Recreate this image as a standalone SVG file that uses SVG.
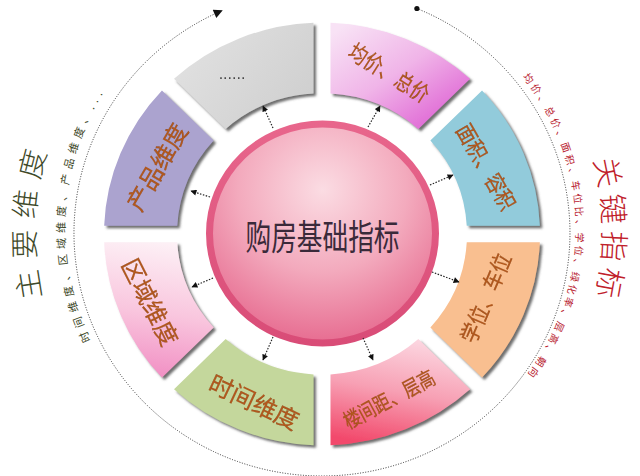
<svg xmlns="http://www.w3.org/2000/svg" width="640" height="476" viewBox="0 0 640 476">
<style>
.lbl{font-family:"Noto Sans CJK SC","Noto Sans CJK JP",sans-serif;fill:#b4581c;stroke:#7a3b12;stroke-width:0.2;text-anchor:middle}
.big{font-family:"Noto Sans CJK SC","Noto Sans CJK JP",sans-serif;font-weight:300}
.small{font-family:"Noto Sans CJK SC","Noto Sans CJK JP",sans-serif}
.conn{fill:none;stroke:#222;stroke-width:1.2;stroke-dasharray:1.5 1.5;marker-end:url(#ah)}
.seg{filter:url(#sh)}
</style>
<defs>
<filter id="sh" x="-10%" y="-10%" width="130%" height="130%">
<feDropShadow dx="2.5" dy="2.5" stdDeviation="0.8" flood-color="#555" flood-opacity="0.85"/>
</filter>
<marker id="ah" viewBox="0 0 10 10" refX="9" refY="5" markerWidth="7" markerHeight="6" orient="auto" markerUnits="userSpaceOnUse">
<path d="M0,0 L10,5 L0,10 z" fill="#111"/>
</marker>
<marker id="ah2" viewBox="0 0 10 10" refX="8" refY="5" markerWidth="10" markerHeight="9" orient="auto" markerUnits="userSpaceOnUse">
<path d="M0,0 L10,5 L0,10 z" fill="#111"/>
</marker>
<linearGradient id="g0" gradientUnits="userSpaceOnUse" x1="345" y1="25" x2="415" y2="128">
<stop offset="0" stop-color="#f8e2f5"/><stop offset="0.55" stop-color="#f0b4e8"/><stop offset="1" stop-color="#e273d8"/>
</linearGradient>
<linearGradient id="g3" gradientUnits="userSpaceOnUse" x1="400" y1="335" x2="380" y2="445">
<stop offset="0" stop-color="#fcd8e2"/><stop offset="0.5" stop-color="#f7a0b4"/><stop offset="1" stop-color="#f24a6c"/>
</linearGradient>
<linearGradient id="g5" gradientUnits="userSpaceOnUse" x1="170" y1="242" x2="150" y2="385">
<stop offset="0" stop-color="#fdf1f6"/><stop offset="0.5" stop-color="#f9c6de"/><stop offset="1" stop-color="#f088c0"/>
</linearGradient>
<linearGradient id="g7" gradientUnits="userSpaceOnUse" x1="180" y1="30" x2="300" y2="120">
<stop offset="0" stop-color="#e2e2e2"/><stop offset="1" stop-color="#cfcfcf"/>
</linearGradient>
<radialGradient id="gc" cx="0.5" cy="0.3" r="0.75">
<stop offset="0" stop-color="#fbdce3"/><stop offset="0.5" stop-color="#f3aabd"/><stop offset="1" stop-color="#e5638a"/>
</radialGradient>
<linearGradient id="gr" x1="0" y1="0" x2="0" y2="1">
<stop offset="0" stop-color="#e8668c"/><stop offset="1" stop-color="#d94c77"/>
</linearGradient>
<path id="tpL" d="M42.2,297.1 A287,287 0 0 1 52.3,134.8"/>
<path id="tpR" d="M593.4,160 A281,281 0 0 1 586.1,329.1"/>
<path id="tpLs" d="M90.8,340.3 A257,257 0 0 1 111.5,80.6"/>
<path id="tpRs" d="M522.4,76.8 A243,243 0 0 1 504.8,400.8"/>
</defs>
<rect width="640" height="476" fill="#ffffff"/>

<g id="outer-ring">
<path d="M416.9,8.5 A248,243 0 1 1 221.1,11" fill="none" stroke="#333" stroke-width="1" stroke-dasharray="1 1.6" marker-end="url(#ah2)"/>
<circle cx="416.9" cy="8.5" r="2.6" fill="#111"/>
</g>

<g id="seg-junjia" class="seg">
<path d="M330.5,22.7 A218,211.46 0 0 1 470.02,78.76 L418.34,128.89 A145,140.65 0 0 0 330.5,93.59 Z" fill="url(#g0)"/>
<text class="lbl" font-size="22" textLength="90" lengthAdjust="spacingAndGlyphs" transform="translate(389,73) rotate(32)" x="0" y="8">均价、总价</text>
</g>
<g id="seg-mianji" class="seg">
<path d="M482.04,90.42 A218,211.46 0 0 1 539.83,225.76 L466.75,225.76 A145,140.65 0 0 0 430.36,140.55 Z" fill="#92cbdb"/>
<text class="lbl" font-size="22" textLength="95" lengthAdjust="spacingAndGlyphs" transform="translate(486,167) rotate(60)" x="0" y="8">面积、容积</text>
</g>
<g id="seg-xuewei" class="seg">
<path d="M539.83,242.25 A218,211.46 0 0 1 482.04,377.58 L430.36,327.45 A145,140.65 0 0 0 466.75,242.25 Z" fill="#f9bf90"/>
<text class="lbl" font-size="22" textLength="95" lengthAdjust="spacingAndGlyphs" transform="translate(486,298) rotate(-67)" x="0" y="8">学位、车位</text>
</g>
<g id="seg-loujianju" class="seg">
<path d="M470.02,389.24 A218,211.46 0 0 1 330.5,445.3 L330.5,374.41 A145,140.65 0 0 0 418.34,339.11 Z" fill="url(#g3)"/>
<text class="lbl" font-size="21" textLength="100" lengthAdjust="spacingAndGlyphs" transform="translate(389,399) rotate(-28)" x="0" y="8">楼间距、层高</text>
</g>
<g id="seg-shijian" class="seg">
<path d="M313.5,445.3 A218,211.46 0 0 1 174,389.24 L225.66,339.11 A145,140.65 0 0 0 313.5,374.41 Z" fill="#c4d79c"/>
<text class="lbl" font-size="24" textLength="96" lengthAdjust="spacingAndGlyphs" transform="translate(254,402) rotate(25)" x="0" y="9">时间维度</text>
</g>
<g id="seg-quyu" class="seg">
<path d="M161.96,377.58 A218,211.46 0 0 1 104.17,242.25 L177.25,242.25 A145,140.65 0 0 0 213.64,327.45 Z" fill="url(#g5)"/>
<text class="lbl" font-size="24" textLength="94" lengthAdjust="spacingAndGlyphs" transform="translate(150,302) rotate(63)" x="0" y="9">区域维度</text>
</g>
<g id="seg-chanpin" class="seg">
<path d="M104.17,225.76 A218,211.46 0 0 1 161.96,90.42 L213.64,140.55 A145,140.65 0 0 0 177.25,225.76 Z" fill="#aba3cf"/>
<text class="lbl" font-size="24" textLength="96" lengthAdjust="spacingAndGlyphs" transform="translate(157,167) rotate(-60)" x="0" y="9">产品维度</text>
</g>
<g id="seg-more" class="seg">
<path d="M174,78.76 A218,211.46 0 0 1 313.5,22.7 L313.5,93.59 A145,140.65 0 0 0 225.66,128.89 Z" fill="url(#g7)"/>
<text x="232" y="79" font-family="Liberation Sans, sans-serif" font-size="16" fill="#444" text-anchor="middle">......</text>
</g>

<g id="center">
<ellipse cx="322.5" cy="233.5" rx="113" ry="109.5" fill="url(#gc)" stroke="url(#gr)" stroke-width="7"/>
<text x="322.5" y="250" font-family="Noto Sans CJK SC, Noto Sans CJK JP, sans-serif" font-size="35" fill="#3a2a3a" text-anchor="middle" textLength="154" lengthAdjust="spacingAndGlyphs">购房基础指标</text>
</g>

<g id="connectors">
<line class="conn" x1="273" y1="128" x2="263" y2="106"/>
<line class="conn" x1="368" y1="127" x2="380" y2="106"/>
<line class="conn" x1="430" y1="185" x2="453" y2="175"/>
<line class="conn" x1="432" y1="272" x2="459" y2="282"/>
<line class="conn" x1="363" y1="338" x2="373" y2="360"/>
<line class="conn" x1="273" y1="337" x2="263" y2="360"/>
<line class="conn" x1="213" y1="278" x2="192" y2="287"/>
<line class="conn" x1="210" y1="197" x2="191" y2="191"/>
</g>

<g id="title-left">
<text class="big" fill="#3f4a2a" font-size="29" letter-spacing="10.07"><textPath href="#tpL">主要维度</textPath></text>
<text class="small" fill="#3f4a2a" font-size="11" letter-spacing="4.88"><textPath href="#tpLs">时间维度、区域维度、产品维度、...</textPath></text>
</g>
<g id="title-right">
<text class="big" fill="#c0202a" font-size="30" letter-spacing="5.65"><textPath href="#tpR">关键指标</textPath></text>
<text class="small" fill="#b8202e" font-size="10" letter-spacing="2.92"><textPath href="#tpRs">均价、总价、面积、车位比、学位、绿化率、层高、朝向</textPath></text>
</g>
</svg>
